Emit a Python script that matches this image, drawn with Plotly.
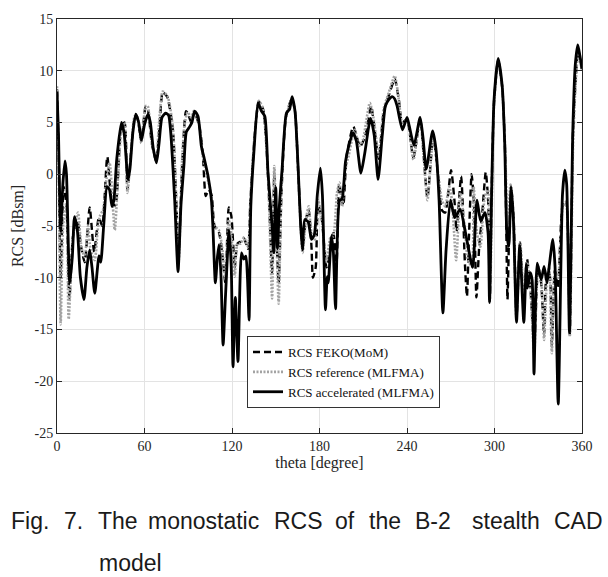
import plotly.graph_objects as go

# ---------------- data ----------------
theta_acc = [0, 1, 2.5, 4, 5.5, 6.5, 8.7, 10.5, 12, 14, 16, 18.5, 20.5, 22.4, 24, 25.9, 28.8, 30, 32,
             34.3, 36, 37.7, 39, 41, 44.2, 46, 48.7, 50, 52, 54, 56, 57.9, 60, 62.4, 64, 66, 68.2, 70,
             72, 74.5, 76.5, 78, 80.7, 83, 85, 87, 88.7, 91, 92.5, 94.4, 96.7, 99, 101, 103.6, 105.9,
             107, 108.6, 110, 111.1, 112.5, 113.9, 115.6, 118, 119.5, 120.7, 122.3, 124.1, 126.5, 128,
             129.5, 130.6, 131.7, 132.9, 135, 137.9, 140.2, 142.5, 144.7, 147.5, 148.7, 150, 151.2,
             152.5, 154.3, 157.3, 159.5, 161.2, 163.2, 165.3, 167, 168.3, 169.9, 172.2, 174.5, 176.5,
             178.5, 180.6, 182, 184.1, 185.3, 186, 188.2, 189.5, 191, 193.8, 195.4, 197.8, 199.8, 203,
             205.3, 208.4, 211, 215, 217.5, 220.2, 223, 225.2, 227.5, 229.8, 231.5, 233.2, 236.9, 240,
             241.5, 244.8, 249, 251, 253.2, 257.6, 259.8, 262, 264.6, 266.8, 269.8, 272.7, 276.4,
             280.3, 285, 288, 290.5, 293.5, 295.6, 296.6, 298, 299.7, 302.5, 305.3, 307, 308.5, 309.8,
             311.4, 313, 315.1, 317.3, 320.1, 321.8, 322.6, 324.5, 325.8, 327.1, 329.3, 332, 334, 336,
             337.5, 340, 341.5, 343.7, 346.6, 348.2, 349.5, 351.4, 353.7, 355.4, 357.1, 358.5, 360]
rcs_acc = [8.0, 4, -5.5, -1, 1.3, 0, -10.5, -8, -4.1, -5.5, -9.9, -12.1, -9, -7.3, -9, -11.5, -7.9, -8.5, -5,
           -1.2, -1.5, -3.1, -2.5, 1.5, 5.0, 4, -0.5, 0.5, 4.0, 5.8, 5, 3.3, 4.8, 5.8, 5, 2.5, 1.1, 3,
           5.5, 5.9, 5.7, 4, -2.5, -9.4, -3, 0.8, 4.1, 4.6, 5.0, 6.1, 5.6, 2.7, 1.5, -0.2, -2.5,
           -5.4, -10.5, -8, -6.8, -10, -16.5, -11.6, -5.4, -9, -18.6, -11.9, -18.1, -7.6, -8.2,
           -7.9, -10, -14.1, -3.1, 2.1, 6.9, 6.1, 5.6, 0.1, -5.0, -7.6, -1.3, -7.2,
           -3, 0.4, 5.9, 6.3, 7.5, 6.1, 0.8, -4.7, -7.3, -4.4, -4.6, -6.3, -5.8,
           -2, 0.6, -2, -13.1, -9.9, -10.5, -6.0, -7.5, -13.0, -2.5, -2.4, 1.2, 2.6, 4.0,
           3.2, 0.1, 2.0, 5.4, 3.8, -0.5, 3.7, 6.6, 7.2, 7.5, 7.3, 6.6, 4.3, 5.5,
           4.7, 2.8, 5.5, 3.5, 0.5, 4.2, 2.5, -2.5, -13.4, -7.3, -2.5, -4.2, -3.4,
           -5.8, -9.0, -2.5, -4.5, -3.7, -5.7, -12.4, -2, 7.2, 11.2, 8.5, 3, -5.8, -7,
           -1.2, -4.5, -14.3, -6.9, -14.3, -8.7, -11, -9.5, -10.2, -19.3, -8.6, -10.2, -8.9, -10.5,
           -8.9, -6.3, -8.9, -22.2, -2, 0.4, -1, -15.3, 4.2, 10.6, 12.5, 11.5, 10.2]

theta_ref = [0, 1, 2.5, 4.2, 6.4, 8, 11, 14.4, 16.7, 19, 21.3, 23, 25.9, 27.7, 29.3, 31.6, 33.9, 36.1,
             39.6, 42, 44, 46.3, 48.3, 51, 53.3, 55, 57.8, 60.8, 62.2, 65, 68, 70, 72.5, 75.9, 79.4,
             81.6, 83.5, 85.8, 87.4, 89.6, 92, 94.2, 97.7, 100, 103.4, 105.6, 108, 111, 113.2, 115.5,
             117.8, 119.6, 121.9, 123.7, 126, 128.2, 131, 132.6, 135.6, 138.4, 141.3, 144.8, 147.5,
             149, 150.4, 152, 154, 157, 161, 163.2, 165.4, 168.4, 170.7, 172.6, 174.5, 176.8, 179,
             181.3, 184.8, 187.5, 189.4, 192, 193.7, 195.5, 197.8, 200, 204.2, 207, 209.7, 214.5,
             217.2, 220.6, 224, 227.5, 231.6, 234.4, 236.7, 240, 244.4, 249, 254, 258, 261.6, 263.9,
             266.2, 269, 270.8, 273.7, 276.6, 280, 281.8, 284.5, 285.7, 288, 290.3, 293.3, 295.5,
             297, 298.5, 299.7, 302.5, 305.3, 307.3, 309, 311, 312.8, 315, 317.7, 320, 322.3, 324.6,
             327.2, 329.9, 332, 334, 336, 337.5, 339.3, 341.4, 343.5, 346.9, 349, 351.6, 353.9,
             355.4, 357.3, 360]
rcs_ref = [8.5, 2, -14.5, -5, -2.8, -14.0, -6, -3.7, -7, -8, -5, -7.3, -8.3, -5.7, -4.1, -3.4, -0.5, 1.1,
           -5.4, 0, 4.0, 5.0, -1.8, 2.7, 5.6, 5.6, 3.0, 6.6, 6.6, 3, 1.4, 5, 8.0, 7.5, 4.6,
           -1.8, -8.3, 1.4, 4.7, 6.0, 5.5, 6.2, 4.7, 1.7, -0.5, -1.8, -5.0, -5.4, -7.0, -10.2,
           -4.4, -6, -9.9, -6.7, -6.7, -6.1, -7.0, -2.5, 4.0, 7.1, 6.3, -0.5, -12,
           0.8, -5.7, -12.5, -1.2, 5.5, 7.2, 6.1, 0.1, -7.6, -4.4, -3.1, -5.7, -6.3, -2.5,
           -4.0, -8.5, -6.1, -6, -1.8, -0.8, -3.1, 0.5, 1.8, 4.3, 2.7, 3.3, 6.9,
           5.3, 1.8, 6.3, 7.9, 9.5, 7.2, 5, 5.3, 1.4, 5.3, -2.5, 3.7, -0.2, -2.5,
           -3.1, -1.2, -2.5, -8.3, -1.8, -5.7, -8.3, -8.9, -1.2, -5.7, -7.0, -2.2, -1.5,
           -11.5, 0, 7.0, 11.0, 8.3, 2.5, -5, -1, -3.5, -13.8, -6.6, -11.8, -8.5, -11,
           -17.5, -8.9, -10, -16, -10, -9, -17.3, -9.5, -10, -3.1, -2.7, -15.7, 3.0,
           8.1, 11.5, 10.1]

theta_feko = [0, 1, 2.5, 4.5, 6.5, 8.5, 11, 14, 16.5, 19, 22.4, 25.5, 28.7, 31, 34.5, 37.9, 40, 44,
              46.3, 48.3, 51, 53.5, 55, 57.8, 60.8, 62.2, 65, 68, 70.5, 72.5, 75.5, 79.4, 81.6, 83.5,
              85.8, 88.5, 90, 92, 94.2, 97.7, 100, 102, 104, 106, 108, 111, 113.2, 115.5, 117.8,
              119.5, 121.9, 123.7, 126, 128.2, 131, 132.6, 135.6, 138.4, 141.3, 144.8, 147.5, 149,
              150.4, 152, 154, 157, 161, 163.2, 165.4, 168.4, 170.7, 172.6, 174.5, 175.5, 177.4, 179,
              181.3, 184.8, 187.1, 189.4, 191.7, 193.5, 196.3, 198.6, 203.2, 207.8, 211.2, 215.4,
              217.2, 220.6, 224, 227.5, 231.6, 234.4, 236.7, 240, 244.4, 249, 254, 258, 261.6, 264,
              266.2, 270.2, 272.5, 274, 277.1, 279.8, 281.1, 282.5, 284.3, 286, 287.6, 289.5, 291.5,
              294, 295.8, 296.8, 298, 299.7, 302.5, 305.3, 307.3, 308.9, 310, 311.6, 313.2, 315.1,
              317.5, 320, 322.3, 324.6, 327.2, 329.9, 332, 334, 336, 337.5, 339.3, 341.4, 343.5,
              346.7, 349, 351.6, 353.7, 355.4, 357.3, 360]
rcs_feko = [8.2, 3, -10, -1.2, -3, -12, -6, -4.5, -7, -8.5, -3.2, -7.5, -4.2, -5, 1.7, -2.8, -3, 4.5,
            5, -1.5, 2.5, 5.6, 5.5, 3.2, 6.5, 6.3, 3, 1.3, 5, 7.9, 7.5, 4.4, -2, -7.5,
            0.8, 6.1, 5.8, 5, 6, 4.6, 2, -2.1, -1.5, -2, -5, -5.6, -7.5, -10.5, -3.2,
            -4, -9, -6.7, -6.5, -6.2, -7.2, -2.7, 3.8, 7.0, 6.3, -0.3, -9.5, 0,
            -5.5, -10.5, -1.5, 5.5, 7.3, 6.1, 0.2, -7.2, -4.3, -3.5, -7, -10, -9, -3,
            -4, -9, -7.5, -5.5, -8.5, -1, -3, 1.7, 4.6, 2.7, 3.6, 6.6,
            5.0, 1.5, 6.0, 7.6, 9.2, 7.2, 5, 5.3, 1.6, 5.3, -2.2, 3.7, -0.5, -3.5,
            -3.7, 0.4, -2.5, -5.5, -0.2, -8.9, -11.8, -6, 0.0, -3, -11.9, -7, -4,
            0.2, -3, -12.2, -2, 7.0, 11.0, 8.4, 2, -12.1, -6, -1.5, -4.5, -13.8,
            -6.6, -12.5, -8.2, -11, -16.5, -9, -10.5, -15.5, -9.5, -9.5, -16.5, -9.3, -11,
            -3.0, -2.5, -15.5, 3.5, 8.5, 11.8, 10.2]

series_names = ["RCS FEKO(MoM)", "RCS reference (MLFMA)", "RCS accelerated (MLFMA)"]
x_ticks = [0, 60, 120, 180, 240, 300, 360]
y_ticks = [-25, -20, -15, -10, -5, 0, 5, 10, 15]
y_tick_labels = ["-25", "-20", "-15", "-10", "-5", "0", "5", "10", "15"]
x_title = "theta [degree]"
y_title = "RCS [dBsm]"
caption_line1 = ["Fig.", "7.", "The", "monostatic", "RCS", "of", "the", "B-2", "stealth", "CAD"]
caption_line2 = ["model"]

# ---------------- figure ----------------
W, H = 608, 577
L, R, T, B = 57, 26, 19, 144
PW, PH = W - L - R, H - T - B

def px_x(px):
    return (px - L) / PW

def px_y(py):
    return (H - B - py) / PH

fig = go.Figure()
fig.add_trace(go.Scatter(x=theta_feko, y=rcs_feko, name=series_names[0], mode="lines",
                         line=dict(color="#000000", width=2.4, dash="7px,4px", shape="spline", smoothing=0.6)))
fig.add_trace(go.Scatter(x=theta_ref, y=rcs_ref, name=series_names[1], mode="lines",
                         line=dict(color="#a3a3a3", width=2.6, dash="2px,1.5px", shape="spline", smoothing=0.6)))
fig.add_trace(go.Scatter(x=theta_acc, y=rcs_acc, name=series_names[2], mode="lines",
                         line=dict(color="#000000", width=2.8, shape="spline", smoothing=0.6)))

tick_font = dict(family="Liberation Serif, Times New Roman, serif", size=14, color="#262626")
title_font = dict(family="Liberation Serif, Times New Roman, serif", size=16, color="#262626")
fig.update_xaxes(range=[0, 360], tickvals=x_ticks, ticks="inside", ticklen=5, tickcolor="#262626",
                 showline=True, linecolor="#262626", linewidth=1, mirror="ticks",
                 showgrid=True, gridcolor="#e3e3e3", gridwidth=1, zeroline=False,
                 tickfont=tick_font, title=dict(text=x_title, font=title_font, standoff=4))
fig.update_yaxes(range=[-25, 15], tickvals=y_ticks, ticktext=y_tick_labels, ticks="inside", ticklen=5,
                 tickcolor="#262626",
                 showline=True, linecolor="#262626", linewidth=1, mirror="ticks",
                 showgrid=True, gridcolor="#e3e3e3", gridwidth=1, zeroline=False,
                 tickfont=tick_font, title=dict(text=y_title, font=title_font, standoff=6))

# caption words, justified like the reference
cap_font = dict(family="Liberation Sans, Arial, sans-serif", size=23, color="#1a1a1a")
line1_centers = [30, 73, 117.5, 203.5, 298, 345, 384.5, 432.5, 506, 578.5]
anns = []
for word, cx in zip(caption_line1, line1_centers):
    anns.append(dict(text=word, x=px_x(cx), y=px_y(521), xref="paper", yref="paper",
                     xanchor="center", yanchor="middle", showarrow=False, font=cap_font))
for word, cx in zip(caption_line2, [130.5]):
    anns.append(dict(text=word, x=px_x(cx), y=px_y(563), xref="paper", yref="paper",
                     xanchor="center", yanchor="middle", showarrow=False, font=cap_font))

fig.update_layout(
    width=W, height=H, autosize=False,
    margin=dict(l=L, r=R, t=T, b=B, pad=0),
    paper_bgcolor="white", plot_bgcolor="white",
    showlegend=True,
    legend=dict(x=px_x(247), y=px_y(372), xanchor="left", yanchor="middle",
                bgcolor="white", bordercolor="#333333", borderwidth=1,
                font=dict(family="Liberation Serif, Times New Roman, serif", size=13, color="#111111"),
                tracegroupgap=0, itemwidth=30),
    annotations=anns,
)

fig.write_html("out.html", config={"displayModeBar": False},
               post_script="document.body.style.margin='0px';")
